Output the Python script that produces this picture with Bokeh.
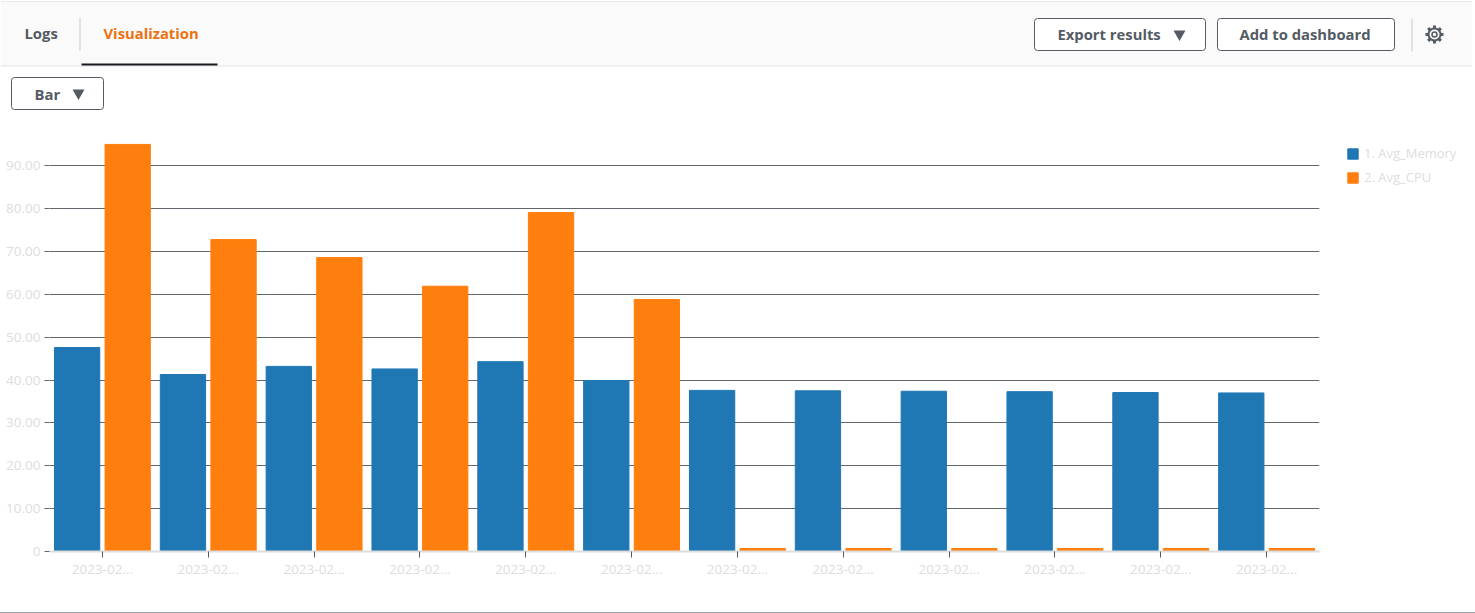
from bokeh.core.properties import value
from bokeh.embed import file_html
from bokeh.layouts import column
from bokeh.models import ColumnDataSource, FixedTicker, Legend, LegendItem, Range1d
from bokeh.plotting import figure
from bokeh.resources import INLINE

tick_labels = ["2023-02..."] * 12
avg_memory = [47.6, 41.3, 43.2, 42.6, 44.3, 39.9, 37.6, 37.5, 37.4, 37.3, 37.1, 37.0]
avg_cpu = [95.0, 72.8, 68.6, 61.9, 79.1, 58.8, 0.7, 0.7, 0.7, 0.7, 0.7, 0.7]
series_names = ["1. Avg_Memory", "2. Avg_CPU"]
y_ticks = [0, 10, 20, 30, 40, 50, 60, 70, 80, 90]
y_labels = ["0", "10.00", "20.00", "30.00", "40.00", "50.00", "60.00", "70.00", "80.00", "90.00"]

BLUE, ORANGE = "#1f77b4", "#ff7f0e"
FONT = "Open Sans"
INK = "#545b64"

# --- console chrome above the chart (axes in page pixels) ---
W = 1472
top = figure(width=W, height=112, x_range=(0, W), y_range=(112, 0), output_backend="svg",
             toolbar_location=None, min_border=0, outline_line_color=None)
top.frame_align = False
top.axis.visible = False
top.grid.visible = False
top.quad(left=[0], right=[W], top=[2], bottom=[65], fill_color="#fafafa", line_color=None)
top.segment([0, 0], [1, 65.5], [W, W], [1, 65.5], line_color="#eaeded", line_width=1.5)
top.segment([79.5, 1411.5], [17, 18], [79.5, 1411.5], [50, 51], line_color="#c5c9cc", line_width=1)
top.segment([81], [64], [217], [64], line_color="#16191f", line_width=2)
top.quad(left=[1034, 1217, 11], right=[1205, 1394, 103], top=[18, 18, 77],
         bottom=[50, 50, 109], fill_color="#ffffff", line_color=INK, line_width=1, border_radius=3)
top.text(x=[24, 103, 1057, 1239, 34], y=[32.5, 32, 33.5, 33.5, 93],
         text=["Logs", "Visualization", "Export results", "Add to dashboard", "Bar"],
         text_color=[INK, "#ec7211", INK, INK, INK], text_font=value(FONT), text_font_size="14.8px",
         text_font_style="bold", text_align="left", text_baseline="middle")
top.scatter(x=[1179, 78], y=[33.5, 92.5], marker="inverted_triangle", size=12, fill_color=INK, line_color=None)
top.scatter(x=[1434], y=[34], marker="asterisk", size=18, line_color=INK, line_width=3)
top.scatter(x=[1434], y=[34], marker="circle", size=12, fill_color="#fafafa", line_color=INK, line_width=2)
top.scatter(x=[1434], y=[34], marker="circle", size=5, fill_color=None, line_color=INK, line_width=1.5)

# --- chart ---
x = list(range(len(tick_labels)))
source = ColumnDataSource(dict(x=x, mem_x=[i - 0.239 for i in x], cpu_x=[i + 0.239 for i in x],
                               mem=avg_memory, cpu=avg_cpu))
p = figure(width=W, height=500, frame_width=1270, frame_height=421, output_backend="svg",
           toolbar_location=None, x_range=Range1d(-0.5, 11.5), y_range=Range1d(0, 98.25),
           min_border_left=49, min_border_right=0, min_border_top=18, min_border_bottom=61,
           outline_line_color=None)
p.frame_align = False
r1 = p.vbar(x="mem_x", top="mem", width=0.428, source=source, color=BLUE)
r2 = p.vbar(x="cpu_x", top="cpu", width=0.428, source=source, color=ORANGE)

p.xgrid.visible = False
p.ygrid.ticker = FixedTicker(ticks=y_ticks[1:])
p.ygrid.grid_line_color = "#62676d"
p.ygrid.grid_line_alpha = 1

p.yaxis.ticker = FixedTicker(ticks=y_ticks)
p.yaxis.major_label_overrides = dict(zip(y_ticks, y_labels))
p.yaxis.axis_line_color = None
p.yaxis.major_tick_in = 0
p.yaxis.major_tick_out = 5
p.yaxis.major_tick_line_color = "#62676d"
p.yaxis.minor_tick_line_color = None
p.yaxis.major_label_standoff = 4

p.xaxis.ticker = FixedTicker(ticks=x)
p.xaxis.major_label_overrides = dict(zip(x, tick_labels))
p.xaxis.axis_line_color = "#dddddd"
p.xaxis.axis_line_width = 2
p.xaxis.major_tick_in = 0
p.xaxis.major_tick_out = 6
p.xaxis.major_tick_line_color = "#545b64"
p.xaxis.minor_tick_line_color = None
p.xaxis.major_label_standoff = 7

for ax in (p.xaxis[0], p.yaxis[0]):
    ax.major_label_text_color = "#dddddd"
    ax.major_label_text_font = FONT
    ax.major_label_text_font_size = "13.5px"

legend = Legend(items=[LegendItem(label=series_names[0], renderers=[r1]),
                       LegendItem(label=series_names[1], renderers=[r2])],
                location=(27, 365), border_line_color=None, background_fill_alpha=0,
                label_text_color="#dddddd", label_text_font=FONT, label_text_font_size="13px",
                glyph_width=13, glyph_height=13, label_height=12, label_standoff=5, spacing=6,
                padding=0, margin=20)
p.add_layout(legend, "right")

root = column(top, p, spacing=0,
              styles={"position": "absolute", "left": "0", "top": "0",
                      "border-right": "1px solid #9aa8ab", "border-bottom": "1px solid #9aa8ab"})
open("out.html", "w").write(file_html(root, INLINE))
